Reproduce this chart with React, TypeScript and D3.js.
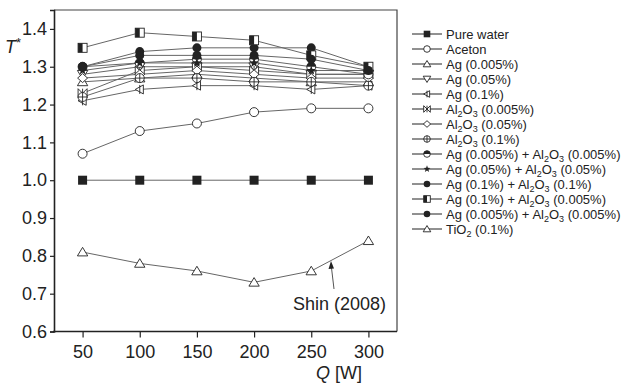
import { useEffect, useRef } from "react"
import * as d3 from "d3"

// --- data ---
const powers = [50, 100, 150, 200, 250, 300]

const pureWater = [1.0, 1.0, 1.0, 1.0, 1.0, 1.0]
const aceton = [1.07, 1.13, 1.15, 1.18, 1.19, 1.19]
const ag005 = [1.26, 1.27, 1.28, 1.27, 1.26, 1.26]
const ag05 = [1.28, 1.3, 1.3, 1.3, 1.28, 1.28]
const ag1 = [1.21, 1.24, 1.25, 1.25, 1.24, 1.25]
const al005 = [1.23, 1.29, 1.3, 1.29, 1.28, 1.28]
const al05 = [1.27, 1.28, 1.29, 1.28, 1.27, 1.27]
const al1 = [1.22, 1.27, 1.27, 1.26, 1.26, 1.25]
const agAl005Half = [1.3, 1.31, 1.32, 1.32, 1.3, 1.28]
const agAl05 = [1.29, 1.31, 1.31, 1.31, 1.29, 1.29]
const agAl1 = [1.3, 1.34, 1.35, 1.35, 1.35, 1.3]
const ag1Al005 = [1.35, 1.39, 1.38, 1.37, 1.33, 1.3]
const agAl005Full = [1.3, 1.33, 1.33, 1.33, 1.32, 1.29]
const tio2 = [0.81, 0.78, 0.76, 0.73, 0.76, 0.84]

const yTicks = [0.6, 0.7, 0.8, 0.9, 1.0, 1.1, 1.2, 1.3, 1.4]
const xTicks = [50, 100, 150, 200, 250, 300]

type Part = { t: string; sub?: boolean }
const AL: Part[] = [{ t: "Al" }, { t: "2", sub: true }, { t: "O" }, { t: "3", sub: true }]

const series: { label: Part[]; values: number[]; marker: string }[] = [
  { label: [{ t: "Pure water" }], values: pureWater, marker: "squareFilled" },
  { label: [{ t: "Aceton" }], values: aceton, marker: "circle" },
  { label: [{ t: "Ag (0.005%)" }], values: ag005, marker: "triUp" },
  { label: [{ t: "Ag (0.05%)" }], values: ag05, marker: "triDown" },
  { label: [{ t: "Ag (0.1%)" }], values: ag1, marker: "triLeftBar" },
  { label: [...AL, { t: " (0.005%)" }], values: al005, marker: "bowtie" },
  { label: [...AL, { t: " (0.05%)" }], values: al05, marker: "diamond" },
  { label: [...AL, { t: " (0.1%)" }], values: al1, marker: "circlePlus" },
  { label: [{ t: "Ag (0.005%) + " }, ...AL, { t: " (0.005%)" }], values: agAl005Half, marker: "circleHalf" },
  { label: [{ t: "Ag (0.05%) + " }, ...AL, { t: " (0.05%)" }], values: agAl05, marker: "star" },
  { label: [{ t: "Ag (0.1%) + " }, ...AL, { t: " (0.1%)" }], values: agAl1, marker: "circleFilled" },
  { label: [{ t: "Ag (0.1%) + " }, ...AL, { t: " (0.005%)" }], values: ag1Al005, marker: "squareHalf" },
  { label: [{ t: "Ag (0.005%) + " }, ...AL, { t: " (0.005%)" }], values: agAl005Full, marker: "circleFilled" },
  { label: [{ t: "TiO" }, { t: "2", sub: true }, { t: " (0.1%)" }], values: tio2, marker: "triUp" },
]

const INK = "#222"
const LINE = "#666"

// draws one marker centred on (0,0) inside g
function drawMarker(g: d3.Selection<SVGGElement, unknown, null, undefined>, kind: string, r: number) {
  const sw = 0.9
  const open = (sel: any) => sel.attr("fill", "#fff").attr("stroke", INK).attr("stroke-width", sw)
  switch (kind) {
    case "squareFilled":
      g.append("rect").attr("x", -r).attr("y", -r).attr("width", 2 * r).attr("height", 2 * r).attr("fill", INK)
      break
    case "circle":
      open(g.append("circle").attr("r", r))
      break
    case "triUp":
      open(g.append("path").attr("d", `M0,${-r * 1.05}L${r * 1.15},${r * 0.85}L${-r * 1.15},${r * 0.85}Z`))
      break
    case "triDown":
      open(g.append("path").attr("d", `M0,${r * 1.05}L${r * 1.15},${-r * 0.85}L${-r * 1.15},${-r * 0.85}Z`))
      break
    case "triLeftBar":
      open(g.append("path").attr("d", `M${-r},0L${r * 0.8},${-r}L${r * 0.8},${r}Z`))
      g.append("line").attr("x1", 0).attr("x2", 0).attr("y1", -r).attr("y2", r).attr("stroke", INK).attr("stroke-width", sw)
      break
    case "bowtie":
      open(g.append("path").attr("d", `M${-r},${-r}L${r},${r}L${r},${-r}L${-r},${r}Z`))
      g.append("line").attr("x1", 0).attr("x2", 0).attr("y1", -r).attr("y2", r).attr("stroke", INK).attr("stroke-width", sw)
      break
    case "diamond":
      open(g.append("path").attr("d", `M0,${-r}L${r * 1.1},0L0,${r}L${-r * 1.1},0Z`))
      break
    case "circlePlus":
      open(g.append("circle").attr("r", r))
      g.append("path").attr("d", `M${-r},0H${r}M0,${-r}V${r}`).attr("stroke", INK).attr("stroke-width", sw)
      break
    case "circleHalf":
      open(g.append("circle").attr("r", r))
      g.append("path").attr("d", `M${-r},0A${r},${r} 0 0 1 ${r},0Z`).attr("fill", INK)
      break
    case "star": {
      const pts = d3.range(10).map(i => {
        const a = (i * Math.PI) / 5 - Math.PI / 2
        const rr = i % 2 === 0 ? r * 1.1 : r * 0.45
        return [rr * Math.cos(a), rr * Math.sin(a)]
      })
      g.append("path").attr("d", "M" + pts.map(p => p.join(",")).join("L") + "Z").attr("fill", INK)
      break
    }
    case "circleFilled":
      g.append("circle").attr("r", r).attr("fill", INK)
      break
    case "squareHalf":
      open(g.append("rect").attr("x", -r).attr("y", -r).attr("width", 2 * r).attr("height", 2 * r))
      g.append("rect").attr("x", -r).attr("y", -r).attr("width", r).attr("height", 2 * r).attr("fill", INK)
      break
  }
}

export default function App() {
  const svgRef = useRef<SVGSVGElement>(null)

  useEffect(() => {
    if (!svgRef.current) return
    const svg = d3.select(svgRef.current)
    svg.selectAll("*").remove()

    const font = "'Liberation Sans', Arial, Helvetica, sans-serif"
    const x = d3.scaleLinear().domain([25, 325]).range([54, 397])
    const y = d3.scaleLinear().domain([0.6, 1.45]).range([331.5, 10])

    // frame (top & right)
    svg.append("path")
      .attr("d", `M${x(25)},${y(1.45)}H${x(325)}V${y(0.6)}`)
      .attr("fill", "none").attr("stroke", "#444").attr("stroke-width", 1.2)

    // --- Axes ---
    const yAxis = d3.axisLeft(y).tickValues(yTicks).tickFormat(d3.format(".1f")).tickSize(4).tickPadding(3)
    const yMinor = d3.axisLeft(y).tickValues(d3.range(0.62, 1.45, 0.02).filter(v => Math.abs(Math.round(v * 10) - v * 10) > 0.01)).tickSize(2.5).tickFormat(() => "")
    const xAxis = d3.axisBottom(x).tickValues(xTicks).tickSize(6).tickPadding(8)
    const xMinor = d3.axisBottom(x).tickValues([75, 125, 175, 225, 275]).tickSize(3).tickFormat(() => "")

    const gy = svg.append("g").attr("transform", `translate(${x(25)},0)`)
    gy.call(yMinor)
    gy.call(yAxis)
    const gx = svg.append("g").attr("transform", `translate(0,${y(0.6)})`)
    gx.call(xMinor)
    gx.call(xAxis)

    for (const g of [gy, gx]) {
      g.selectAll("path.domain").attr("stroke", INK).attr("stroke-width", 1.6)
      g.selectAll(".tick line").attr("stroke", INK).attr("stroke-width", 1.2)
      g.selectAll(".tick text").attr("fill", INK).style("font-size", "18px").style("font-family", font)
    }
    gx.selectAll("path.domain").remove()
    svg.append("line").attr("x1", x(25) - 1).attr("x2", x(325)).attr("y1", y(0.6)).attr("y2", y(0.6))
      .attr("stroke", INK).attr("stroke-width", 1.6)

    // axis titles
    const ty = svg.append("text").attr("x", 5).attr("y", 53)
      .style("font-family", font).style("font-size", "18px").attr("fill", INK)
    ty.append("tspan").text("T").style("font-style", "italic")
    ty.append("tspan").text("*").attr("baseline-shift", "6").style("font-size", "13px")

    const tx = svg.append("text").attr("x", 339).attr("y", 379).attr("text-anchor", "middle")
      .style("font-family", font).style("font-size", "18px").attr("fill", INK)
    tx.append("tspan").text("Q").style("font-style", "italic")
    tx.append("tspan").text(" [W]")

    // --- series ---
    const line = d3.line<number>().x((_, i) => x(powers[i])).y(d => y(d))
    series.forEach(s => {
      svg.append("path").datum(s.values).attr("d", line)
        .attr("fill", "none").attr("stroke", LINE).attr("stroke-width", 1)
    })
    series.forEach(s => {
      s.values.forEach((v, i) => {
        const g = svg.append("g").attr("transform", `translate(${x(powers[i])},${y(v)})`)
        drawMarker(g, s.marker, 4.5)
      })
    })

    // annotation
    svg.append("text").attr("x", 293).attr("y", 310)
      .style("font-family", font).style("font-size", "18px").attr("fill", INK).text("Shin (2008)")
    svg.append("line").attr("x1", 334).attr("y1", 289).attr("x2", 331.5).attr("y2", 268)
      .attr("stroke", "#555").attr("stroke-width", 1)
    svg.append("path").attr("d", "M331,261L328.5,269L334,268.5Z").attr("fill", INK)

    // --- legend ---
    series.forEach((s, i) => {
      const ly = 34 + i * 15
      svg.append("line").attr("x1", 412).attr("x2", 442).attr("y1", ly).attr("y2", ly)
        .attr("stroke", INK).attr("stroke-width", 1)
      const g = svg.append("g").attr("transform", `translate(427,${ly})`)
      drawMarker(g, s.marker, 3.3)
      const t = svg.append("text").attr("x", 446).attr("y", ly + 4.5)
        .style("font-family", font).style("font-size", "13px").attr("fill", INK)
      s.label.forEach(p => {
        const sp = t.append("tspan").text(p.t)
        if (p.sub) sp.attr("baseline-shift", "-2.5").style("font-size", "9px")
      })
    })
  }, [])

  return (
    <div style={{ position: "absolute", left: 0, top: 0 }}>
      <svg ref={svgRef} width={629} height={383} style={{ display: "block", background: "#fff" }} />
    </div>
  )
}
